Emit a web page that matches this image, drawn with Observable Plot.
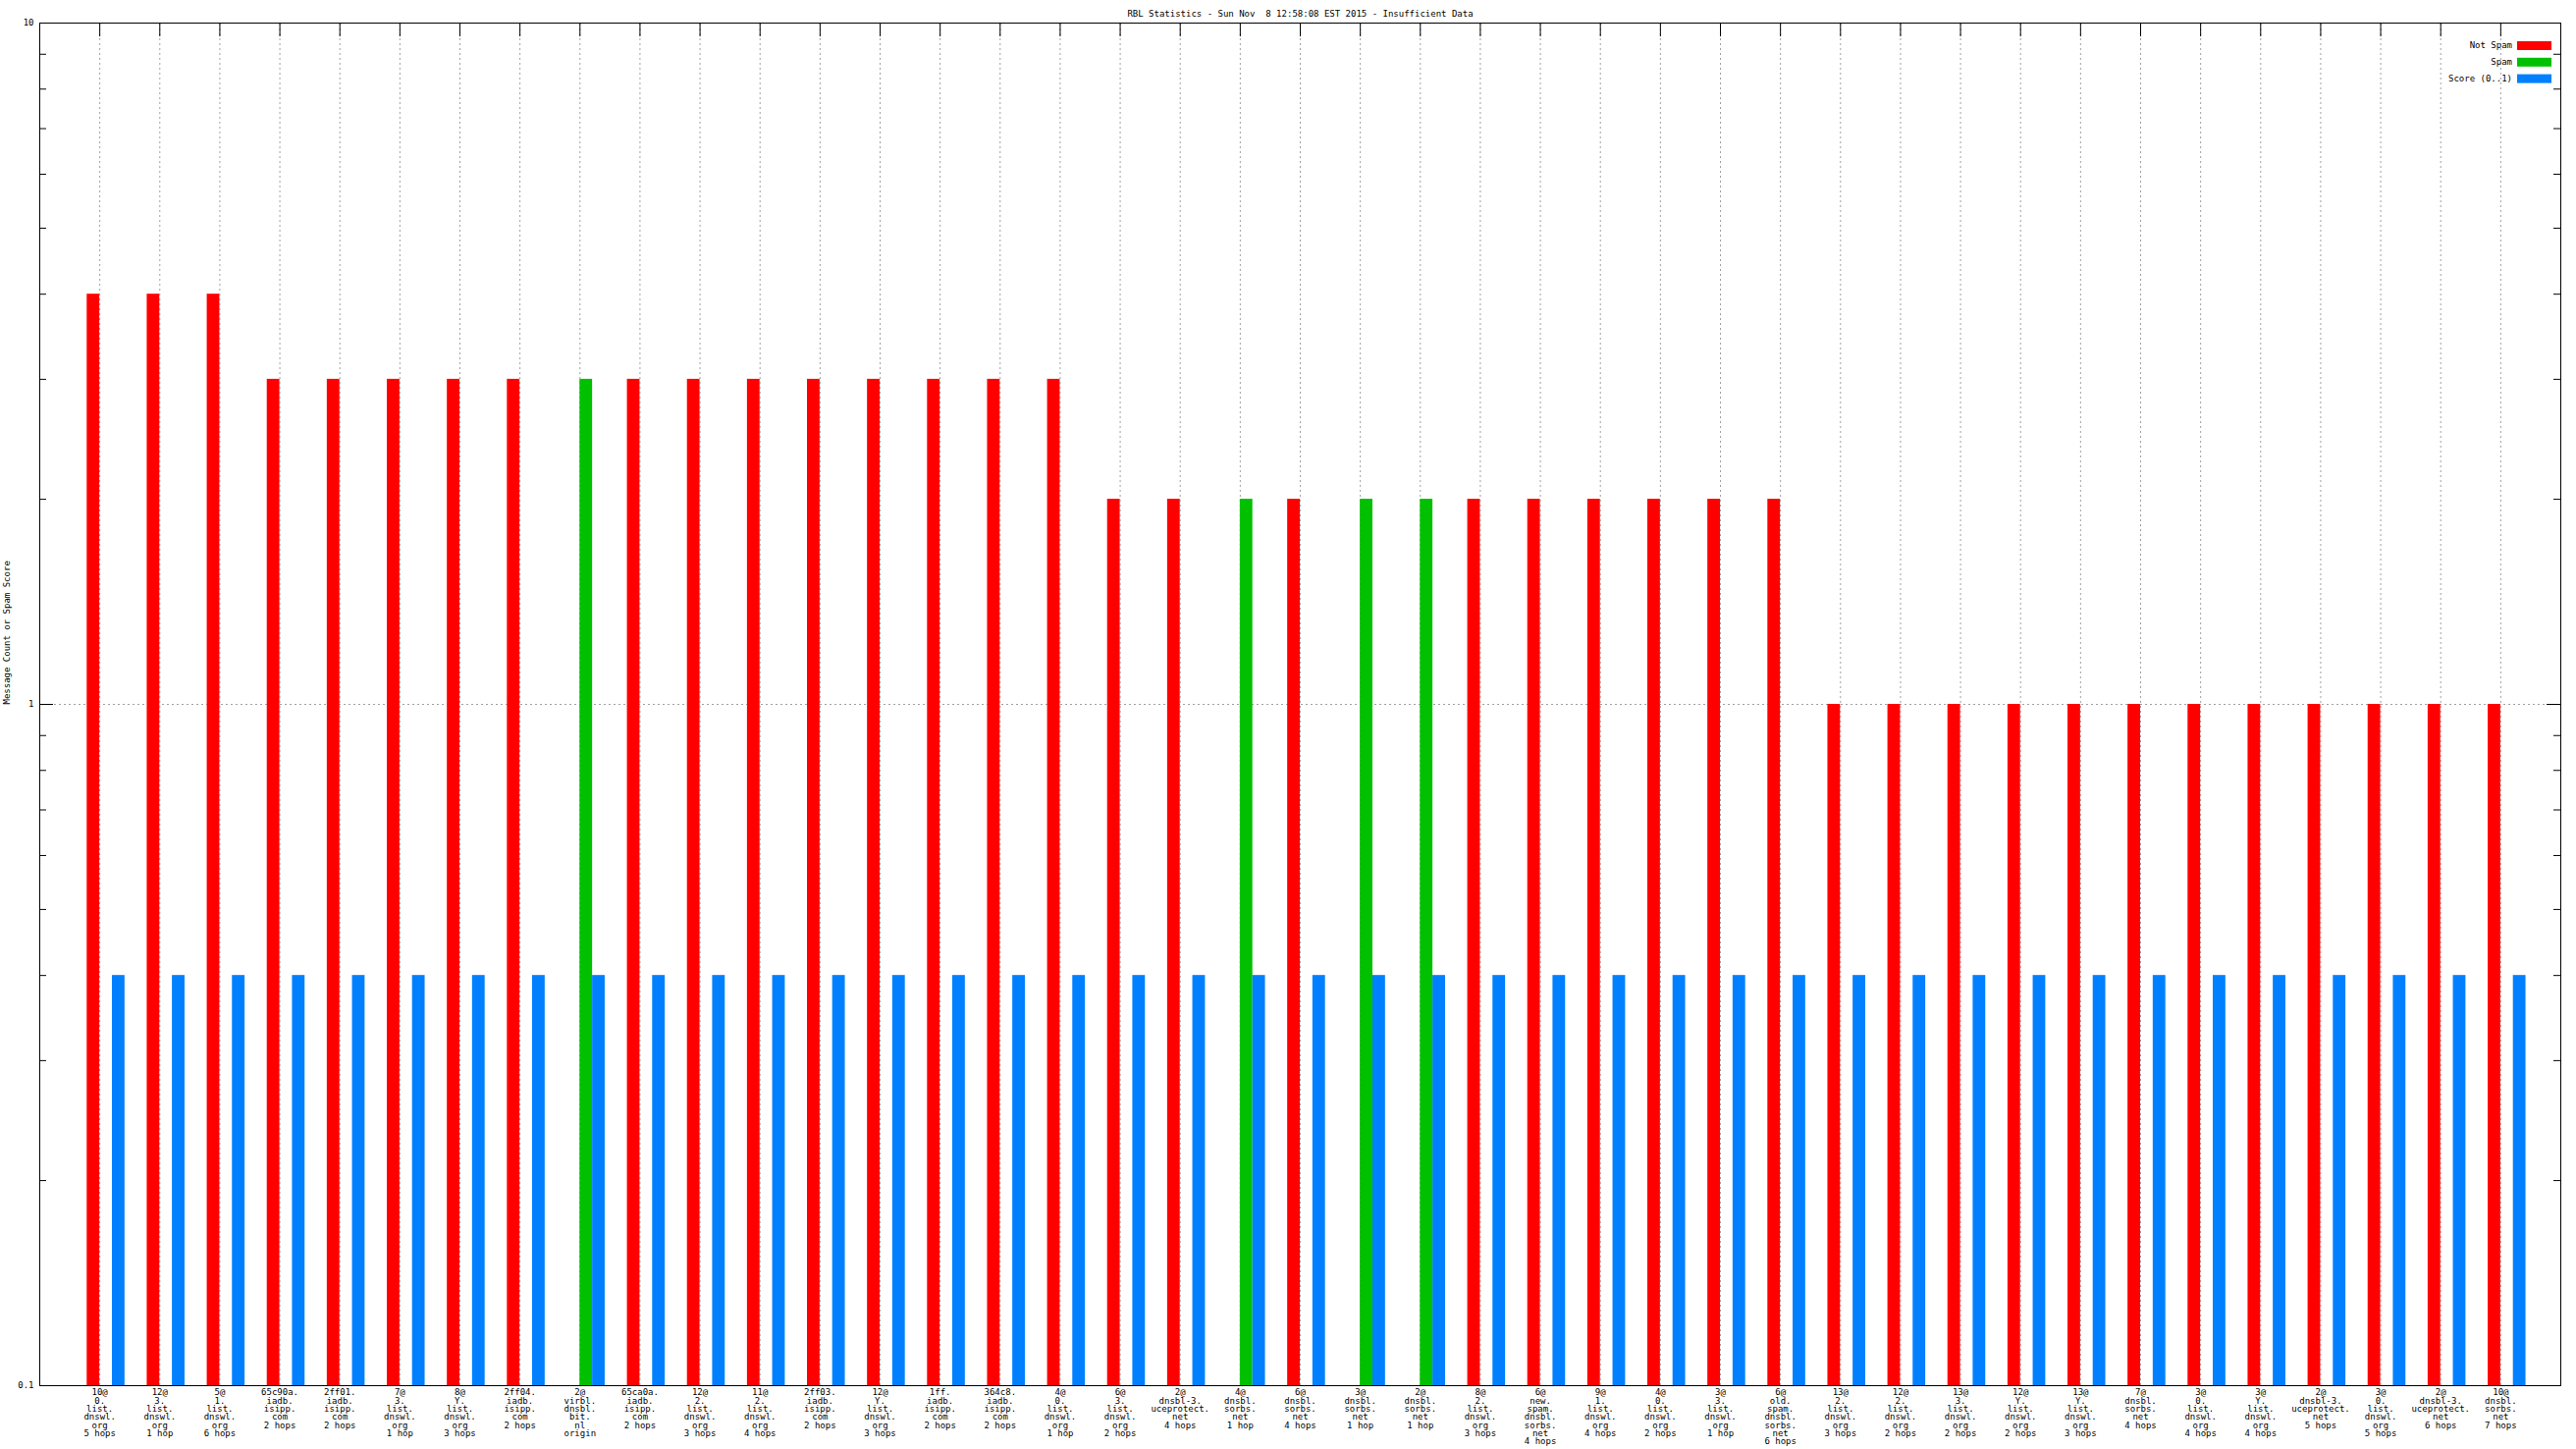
<!DOCTYPE html>
<html><head><meta charset="utf-8">
<script src="https://cdn.jsdelivr.net/npm/d3@7"></script>
<script src="https://cdn.jsdelivr.net/npm/@observablehq/plot@0.6"></script>
<style>
html,body{margin:0;padding:0;background:#fff;}
#chart svg{white-space:pre;display:block;}
</style>
</head><body><div id="chart"></div>
<script>
const title = "RBL Statistics - Sun Nov  8 12:58:08 EST 2015 - Insufficient Data";
const yLabel = "Message Count or Spam Score";

const categories = [
  "10@\n0.\nlist.\ndnswl.\norg\n5 hops",
  "12@\n3.\nlist.\ndnswl.\norg\n1 hop",
  "5@\n1.\nlist.\ndnswl.\norg\n6 hops",
  "65c90a.\niadb.\nisipp.\ncom\n2 hops",
  "2ff01.\niadb.\nisipp.\ncom\n2 hops",
  "7@\n3.\nlist.\ndnswl.\norg\n1 hop",
  "8@\nY.\nlist.\ndnswl.\norg\n3 hops",
  "2ff04.\niadb.\nisipp.\ncom\n2 hops",
  "2@\nvirbl.\ndnsbl.\nbit.\nnl\norigin",
  "65ca0a.\niadb.\nisipp.\ncom\n2 hops",
  "12@\n2.\nlist.\ndnswl.\norg\n3 hops",
  "11@\n2.\nlist.\ndnswl.\norg\n4 hops",
  "2ff03.\niadb.\nisipp.\ncom\n2 hops",
  "12@\nY.\nlist.\ndnswl.\norg\n3 hops",
  "1ff.\niadb.\nisipp.\ncom\n2 hops",
  "364c8.\niadb.\nisipp.\ncom\n2 hops",
  "4@\n0.\nlist.\ndnswl.\norg\n1 hop",
  "6@\n3.\nlist.\ndnswl.\norg\n2 hops",
  "2@\ndnsbl-3.\nuceprotect.\nnet\n4 hops",
  "4@\ndnsbl.\nsorbs.\nnet\n1 hop",
  "6@\ndnsbl.\nsorbs.\nnet\n4 hops",
  "3@\ndnsbl.\nsorbs.\nnet\n1 hop",
  "2@\ndnsbl.\nsorbs.\nnet\n1 hop",
  "8@\n2.\nlist.\ndnswl.\norg\n3 hops",
  "6@\nnew.\nspam.\ndnsbl.\nsorbs.\nnet\n4 hops",
  "9@\n1.\nlist.\ndnswl.\norg\n4 hops",
  "4@\n0.\nlist.\ndnswl.\norg\n2 hops",
  "3@\n3.\nlist.\ndnswl.\norg\n1 hop",
  "6@\nold.\nspam.\ndnsbl.\nsorbs.\nnet\n6 hops",
  "13@\n2.\nlist.\ndnswl.\norg\n3 hops",
  "12@\n2.\nlist.\ndnswl.\norg\n2 hops",
  "13@\n3.\nlist.\ndnswl.\norg\n2 hops",
  "12@\nY.\nlist.\ndnswl.\norg\n2 hops",
  "13@\nY.\nlist.\ndnswl.\norg\n3 hops",
  "7@\ndnsbl.\nsorbs.\nnet\n4 hops",
  "3@\n0.\nlist.\ndnswl.\norg\n4 hops",
  "3@\nY.\nlist.\ndnswl.\norg\n4 hops",
  "2@\ndnsbl-3.\nuceprotect.\nnet\n5 hops",
  "3@\n0.\nlist.\ndnswl.\norg\n5 hops",
  "2@\ndnsbl-3.\nuceprotect.\nnet\n6 hops",
  "10@\ndnsbl.\nsorbs.\nnet\n7 hops"
];

const notSpam = [4,4,4,3,3,3,3,3,null,3,3,3,3,3,3,3,3,2,2,null,2,null,null,2,2,2,2,2,2,1,1,1,1,1,1,1,1,1,1,1,1];
const spam    = [null,null,null,null,null,null,null,null,3,null,null,null,null,null,null,null,null,null,null,2,null,2,2,null,null,null,null,null,null,null,null,null,null,null,null,null,null,null,null,null,null];
const score   = [0.4,0.4,0.4,0.4,0.4,0.4,0.4,0.4,0.4,0.4,0.4,0.4,0.4,0.4,0.4,0.4,0.4,0.4,0.4,0.4,0.4,0.4,0.4,0.4,0.4,0.4,0.4,0.4,0.4,0.4,0.4,0.4,0.4,0.4,0.4,0.4,0.4,0.4,0.4,0.4,0.4];

const yMajor = [0.1, 1, 10];
const yMajorLabels = ["0.1", "1", "10"];
const yMinor = [0.2,0.3,0.4,0.5,0.6,0.7,0.8,0.9,2,3,4,5,6,7,8,9];

const legendLabels = ["Not Spam", "Spam", "Score (0..1)"];
const legendColors = ["#ff0000", "#00c000", "#0080ff"];

const rows = categories.map((label, k) => ({i: k + 1, label, notSpam: notSpam[k], spam: spam[k], score: score[k]}));

const W = 2624, H = 1476;
const mL = 40, mR = 16, mT = 23, mB = 65;
const xDom = [0, categories.length + 1];
const pxX = (xDom[1] - xDom[0]) / (W - mL - mR);     // data units per px horizontally
const decPx = 2 / (H - mT - mB);                     // decades per px vertically
const majorLen = 14, minorLen = 7;
const font = "DejaVu Sans Mono";
const grid = {stroke: "#a0a0a0", strokeDasharray: "2,3", strokeWidth: 1};

const chart = Plot.plot({
  width: W, height: H,
  marginLeft: mL, marginRight: mR, marginTop: mT, marginBottom: mB,
  style: {fontFamily: font, fontSize: "9px", background: "#fff", color: "#000"},
  x: {domain: xDom, axis: null},
  y: {type: "log", domain: [0.1, 10], axis: null},
  marks: [
    // grid
    Plot.ruleX(rows, {x: "i", y1: () => 0.1, y2: () => 10, ...grid}),
    Plot.ruleY([1], {x1: () => xDom[0], x2: () => xDom[1], ...grid}),
    // bars
    Plot.rect(rows.filter(d => d.notSpam != null), {x1: d => d.i - 0.21, x2: d => d.i, y1: () => 0.1, y2: "notSpam", fill: legendColors[0]}),
    Plot.rect(rows.filter(d => d.spam != null), {x1: d => d.i, x2: d => d.i + 0.21, y1: () => 0.1, y2: "spam", fill: legendColors[1]}),
    Plot.rect(rows, {x1: d => d.i + 0.21, x2: d => d.i + 0.42, y1: () => 0.1, y2: "score", fill: legendColors[2]}),
    // y ticks left & right (inward)
    Plot.ruleY(yMajor, {y: d => d, x1: () => xDom[0], x2: () => xDom[0] + majorLen * pxX, stroke: "#000"}),
    Plot.ruleY(yMinor, {y: d => d, x1: () => xDom[0], x2: () => xDom[0] + minorLen * pxX, stroke: "#000"}),
    Plot.ruleY(yMajor, {y: d => d, x1: () => xDom[1] - majorLen * pxX, x2: () => xDom[1], stroke: "#000"}),
    Plot.ruleY(yMinor, {y: d => d, x1: () => xDom[1] - minorLen * pxX, x2: () => xDom[1], stroke: "#000"}),
    // top x ticks (inward)
    Plot.ruleX(rows, {x: "i", y1: () => 10, y2: () => 10 * Math.pow(10, -majorLen * decPx), stroke: "#000"}),
    Plot.frame({stroke: "#000", strokeWidth: 1}),
    // y tick labels
    Plot.text(yMajor, {y: d => d, text: (d, k) => yMajorLabels[k], frameAnchor: "left", dx: -6, textAnchor: "end", fontSize: 9}),
    // x labels
    Plot.text(rows, {x: "i", y: () => 0.1, text: "label", lineAnchor: "top", dy: 4, fontSize: 9, lineHeight: 0.926}),
    // title
    Plot.text([title], {frameAnchor: "top", dy: -13, fontSize: 9}),
    // y label
    Plot.text([yLabel], {frameAnchor: "left", dx: -33, rotate: -90, fontSize: 9})
  ]
});

document.getElementById("chart").appendChild(chart);

// legend (inside top-right of the frame)
const svg = d3.select(chart);
const lg = svg.append("g").attr("font-family", font).attr("font-size", 9);
const frameRight = W - mR;
legendLabels.forEach((lab, k) => {
  const cy = 46.5 + k * 16.8;
  lg.append("rect").attr("x", frameRight - 44).attr("y", cy - 4.5).attr("width", 35).attr("height", 9).attr("fill", legendColors[k]);
  lg.append("text").attr("x", frameRight - 49).attr("y", cy).attr("dy", "0.32em").attr("text-anchor", "end").attr("fill", "#000").text(lab);
});
</script>
</body></html>
